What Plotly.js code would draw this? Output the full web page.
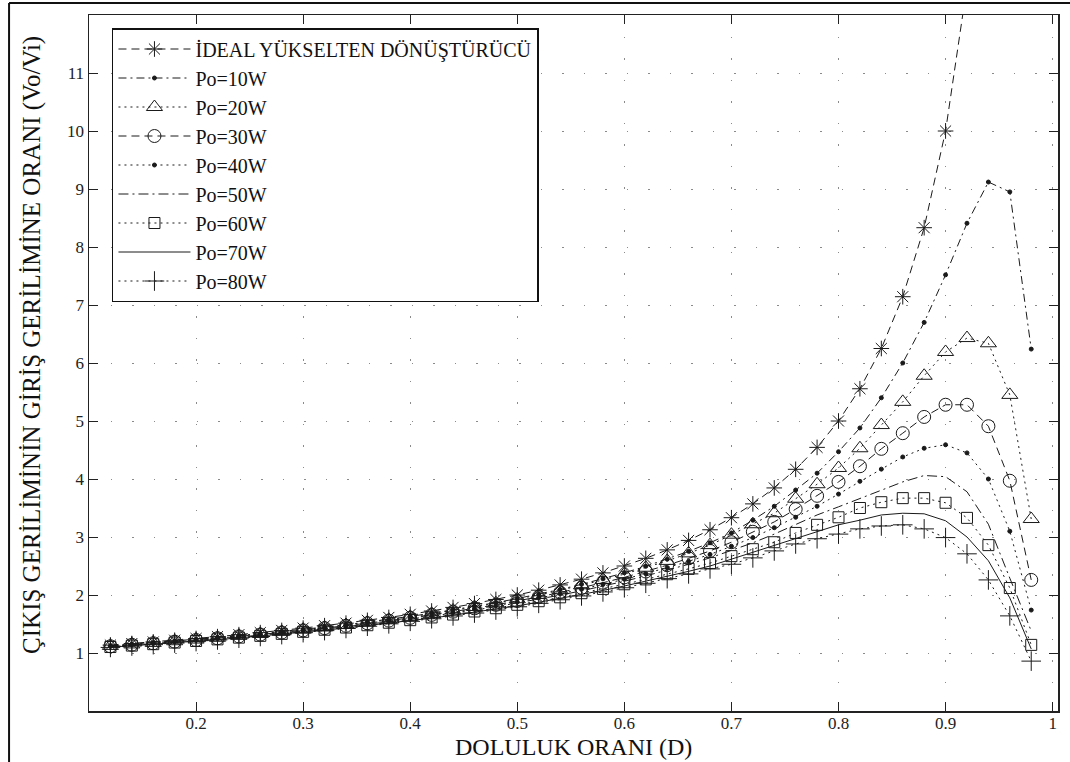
<!DOCTYPE html>
<html>
<head>
<meta charset="utf-8">
<script src="https://cdn.plot.ly/plotly-3.0.1.min.js"></script>
<style>html,body{margin:0;padding:0;background:#fff;}#chart{width:1070px;height:762px;}</style>
</head>
<body>
<div id="chart"></div>
<script>
// Duty cycle (D) values
const D = [0.12,0.14,0.16,0.18,0.20,0.22,0.24,0.26,0.28,0.30,0.32,0.34,0.36,0.38,0.40,0.42,0.44,0.46,0.48,0.50,0.52,0.54,0.56,0.58,0.60,0.62,0.64,0.66,0.68,0.70,0.72,0.74,0.76,0.78,0.80,0.82,0.84,0.86,0.88,0.90,0.92,0.94,0.96,0.98];

const ideal = [1.136,1.163,1.190,1.220,1.250,1.282,1.316,1.351,1.389,1.429,1.471,1.515,1.563,1.613,1.667,1.724,1.786,1.852,1.923,2.000,2.083,2.174,2.273,2.381,2.500,2.632,2.778,2.941,3.125,3.333,3.571,3.846,4.167,4.545,5.000,5.556,6.250,7.143,8.333,10.000,12.500];
const po10 = [1.125,1.151,1.177,1.206,1.235,1.266,1.298,1.332,1.368,1.406,1.446,1.488,1.533,1.581,1.631,1.685,1.742,1.803,1.868,1.939,2.014,2.096,2.184,2.279,2.382,2.495,2.618,2.753,2.90,3.07,3.29,3.53,3.81,4.10,4.47,4.88,5.40,6.00,6.70,7.52,8.41,9.12,8.95,6.24];
const po20 = [1.122,1.148,1.174,1.203,1.232,1.262,1.295,1.328,1.364,1.402,1.441,1.483,1.527,1.574,1.624,1.677,1.733,1.793,1.858,1.927,2.001,2.081,2.167,2.259,2.360,2.470,2.588,2.718,2.86,3.04,3.22,3.41,3.66,3.91,4.19,4.53,4.93,5.33,5.78,6.19,6.43,6.34,5.45,3.31];
const po30 = [1.116,1.142,1.168,1.196,1.224,1.254,1.286,1.318,1.353,1.390,1.429,1.469,1.512,1.558,1.606,1.657,1.712,1.769,1.831,1.897,1.967,2.043,2.124,2.211,2.304,2.405,2.514,2.632,2.76,2.91,3.09,3.26,3.48,3.71,3.95,4.22,4.52,4.79,5.07,5.28,5.28,4.91,3.97,2.26];
const po40 = [1.113,1.138,1.163,1.191,1.219,1.249,1.280,1.312,1.347,1.384,1.422,1.461,1.503,1.548,1.596,1.645,1.699,1.755,1.815,1.879,1.947,2.020,2.098,2.182,2.272,2.368,2.471,2.581,2.70,2.84,2.99,3.16,3.34,3.53,3.74,3.96,4.17,4.38,4.53,4.59,4.45,4.00,3.10,1.74];
const po50 = [1.109,1.134,1.159,1.187,1.214,1.244,1.275,1.306,1.340,1.376,1.413,1.452,1.494,1.538,1.584,1.633,1.685,1.740,1.798,1.860,1.926,1.997,2.072,2.152,2.237,2.329,2.426,2.530,2.64,2.77,2.90,3.05,3.21,3.38,3.52,3.66,3.80,3.95,4.06,4.04,3.78,3.22,2.29,1.38];
const po60 = [1.103,1.128,1.152,1.180,1.207,1.235,1.265,1.296,1.330,1.365,1.401,1.439,1.479,1.522,1.566,1.613,1.663,1.716,1.772,1.831,1.893,1.960,2.031,2.105,2.185,2.269,2.358,2.451,2.55,2.67,2.79,2.91,3.07,3.21,3.34,3.50,3.60,3.67,3.67,3.59,3.33,2.86,2.12,1.14];
const po70 = [1.100,1.124,1.148,1.175,1.202,1.230,1.260,1.291,1.324,1.358,1.394,1.431,1.471,1.512,1.556,1.602,1.651,1.703,1.757,1.814,1.875,1.939,2.008,2.079,2.155,2.236,2.320,2.408,2.50,2.62,2.74,2.86,2.98,3.10,3.21,3.29,3.38,3.41,3.40,3.28,3.00,2.59,1.95,1.07];
const po80 = [1.096,1.120,1.144,1.171,1.197,1.225,1.255,1.285,1.317,1.351,1.386,1.423,1.462,1.503,1.546,1.591,1.639,1.689,1.741,1.797,1.856,1.918,1.984,2.053,2.125,2.202,2.282,2.364,2.45,2.53,2.64,2.76,2.88,2.97,3.05,3.14,3.19,3.21,3.14,2.99,2.71,2.26,1.64,0.86];

const seriesNames = ['İDEAL YÜKSELTEN DÖNÜŞTÜRÜCÜ','Po=10W','Po=20W','Po=30W','Po=40W','Po=50W','Po=60W','Po=70W','Po=80W'];
const xTickVals = [0.2,0.3,0.4,0.5,0.6,0.7,0.8,0.9,1.0];
const xTickText = ['0.2','0.3','0.4','0.5','0.6','0.7','0.8','0.9','1'];
const yTickVals = [1,2,3,4,5,6,7,8,9,10,11];
const yTickText = ['1','2','3','4','5','6','7','8','9','10','11'];
const xTitle = 'DOLULUK ORANI (D)';
const yTitle = 'ÇIKIŞ GERİLİMİNİN GİRİŞ GERİLİMİNE ORANI (Vo/Vi)';

const C = '#1a1a1a';
const FONT = '"Liberation Serif", "Times New Roman", serif';

function tr(i, y, dash, symbol, msize, mode) {
  return {
    x: D.slice(0, y.length), y: y, name: seriesNames[i], type: 'scatter',
    mode: mode || 'lines+markers',
    line: {color: C, width: 1, dash: dash},
    marker: {symbol: symbol, size: msize, color: C, line: {color: C, width: 1}}
  };
}

const DOTTED = '2px,4px';
const data = [
  tr(0, ideal, '8px,5px', 'asterisk-open', 13),
  tr(1, po10, '8px,4px,2px,4px', 'circle', 4),
  tr(2, po20, DOTTED, 'triangle-up-open', 14),
  tr(3, po30, '8px,5px', 'circle-open', 13),
  tr(4, po40, DOTTED, 'circle', 4),
  tr(5, po50, '10px,4px,2px,4px', 'circle', 1, 'lines'),
  tr(6, po60, DOTTED, 'square-open', 11),
  tr(7, po70, 'solid', 'circle', 1, 'lines'),
  tr(8, po80, DOTTED, 'cross-thin-open', 14)
];

const axisCommon = {
  showline: true, linecolor: '#222', linewidth: 1.5, mirror: 'ticks',
  ticks: 'inside', ticklen: 9, tickcolor: '#222', tickwidth: 1,
  showgrid: true, gridcolor: '#8a8a8a', gridwidth: 1, griddash: '1.5px,20px',
  zeroline: false, tickfont: {family: FONT, size: 17, color: '#222'}
};

const layout = {
  width: 1070, height: 762,
  margin: {l: 89, r: 12, t: 15, b: 51},
  paper_bgcolor: '#fff', plot_bgcolor: '#fff',
  showlegend: true,
  xaxis: Object.assign({}, axisCommon, {range: [0.1, 1.005], tickvals: xTickVals, ticktext: xTickText, ticklabelstandoff: -4}),
  yaxis: Object.assign({}, axisCommon, {range: [0, 12], tickvals: yTickVals, ticktext: yTickText}),
  legend: {
    x: 0.0237, y: 0.9813, xanchor: 'left', yanchor: 'top',
    bgcolor: '#fff', bordercolor: '#111', borderwidth: 1.5,
    font: {family: FONT, size: 20, color: '#111'},
    itemwidth: 72
  },
  annotations: [
    {text: xTitle, xref: 'paper', yref: 'paper', x: 0.5, y: -0.0733, xanchor: 'center', yanchor: 'bottom', showarrow: false, font: {family: FONT, size: 24, color: '#111'}},
    {text: yTitle, xref: 'paper', yref: 'paper', x: -0.0588, y: 0.526, xanchor: 'center', yanchor: 'middle', textangle: -90, showarrow: false, font: {family: FONT, size: 25, color: '#111'}}
  ],
  shapes: [
    {type: 'line', xref: 'paper', yref: 'paper', x0: -0.0825, x1: 1.02, y0: 1.0173, y1: 1.0173, line: {color: '#111', width: 2}},
    {type: 'line', xref: 'paper', yref: 'paper', x0: -0.0825, x1: -0.0825, y0: 1.0173, y1: -0.1, line: {color: '#111', width: 2}}
  ]
};

Plotly.newPlot('chart', data, layout, {displayModeBar: false, staticPlot: true});
</script>
</body>
</html>
